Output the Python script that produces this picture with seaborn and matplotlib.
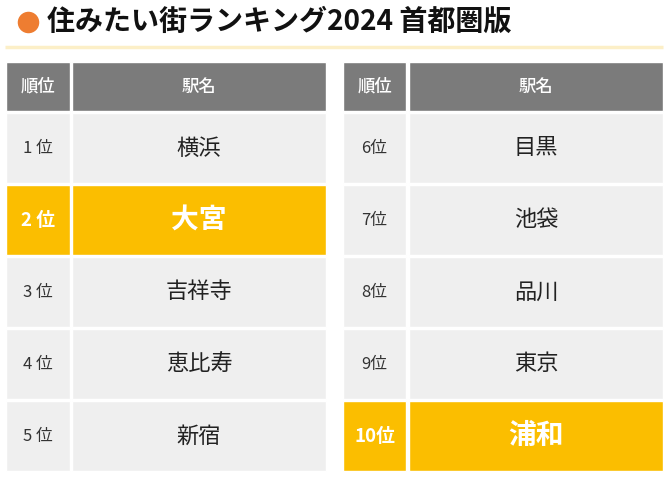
import matplotlib
matplotlib.use("Agg")
import matplotlib.pyplot as plt
import seaborn as sns
import pandas as pd

sns.set_theme(style="white")
plt.rcParams['font.family'] = ['Noto Sans CJK JP', 'DejaVu Sans']

title = "住みたい街ランキング2024 首都圏版"
header_rank = "順位"
header_name = "駅名"
rank_labels = ["1 位", "2 位", "3 位", "4 位", "5 位", "6位", "7位", "8位", "9位", "10位"]
stations = ["横浜", "大宮", "吉祥寺", "恵比寿", "新宿", "目黒", "池袋", "品川", "東京", "浦和"]
highlighted = [2, 10]

df = pd.DataFrame({"rank": list(range(1, 11)), "label": rank_labels, "station": stations})
df["hl"] = df["rank"].isin(highlighted)

GRAY = "#7b7b7b"
ROW = "#efefef"
HL = "#fbbe00"

fig = plt.figure(figsize=(6.7, 4.79), dpi=100)
ax = fig.add_axes([0, 0, 1, 1])
ax.set_xlim(0, 670)
ax.set_ylim(479, 0)
ax.axis("off")

# title
ax.scatter([28], [22], s=240, color="#ee7d31", zorder=3, linewidths=0)
ax.text(47, 22, title, fontsize=20.2, fontweight="bold", color="#111111", va="center", ha="left")
ax.plot([5, 663], [46.5, 46.5], color="#fcefc7", lw=2.5, solid_capstyle="butt")

tables = [(6, 70, 72, 326), (343, 406, 409, 663)]
header_top, header_bot = 62, 111
row_top, row_h, gap = 113, 72, 2

for t, (x0, x1, x2, x3) in enumerate(tables):
    # header
    ax.barh([(header_top + header_bot) / 2], [x1 - x0], left=x0, height=header_bot - header_top, color=GRAY)
    ax.barh([(header_top + header_bot) / 2], [x3 - x2], left=x2, height=header_bot - header_top, color=GRAY)
    ax.text((x0 + x1) / 2, (header_top + header_bot) / 2, header_rank, color="white", fontsize=12.5,
            fontweight="medium", ha="center", va="center")
    ax.text((x2 + x3) / 2, (header_top + header_bot) / 2, header_name, color="white", fontsize=12.5,
            fontweight="medium", ha="center", va="center")
    sub = df.iloc[t * 5:(t + 1) * 5].reset_index(drop=True)
    for i, r in sub.iterrows():
        top = row_top + i * row_h
        h = row_h - gap
        yc = top + h / 2
        c = HL if r["hl"] else ROW
        ax.barh([yc], [x1 - x0], left=x0, height=h, color=c)
        ax.barh([yc], [x3 - x2], left=x2, height=h, color=c)
        if r["hl"]:
            ax.text((x0 + x1) / 2, yc, r["label"], color="white", fontsize=13.5, fontweight="bold",
                    ha="center", va="center")
            ax.text((x2 + x3) / 2, yc, r["station"], color="white", fontsize=20, fontweight="bold",
                    ha="center", va="center")
        else:
            ax.text((x0 + x1) / 2, yc, r["label"], color="#333333", fontsize=12,
                    ha="center", va="center")
            ax.text((x2 + x3) / 2, yc, r["station"], color="#222222", fontsize=16,
                    ha="center", va="center")

fig.savefig("out.png", dpi=100, facecolor="white")
